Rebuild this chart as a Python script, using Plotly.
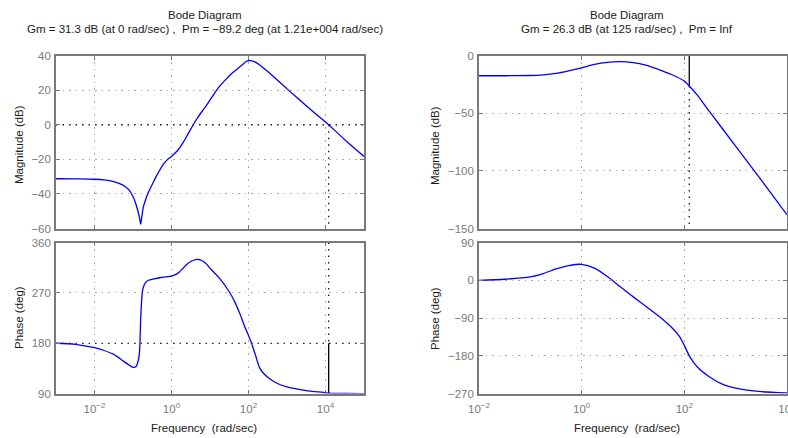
import numpy as np
import plotly.graph_objects as go

W, H = 788, 438

# ---- System 1 (left column) ----
# frequency points as decade exponents (log10 of rad/sec)
l_mag_exp = [-3, -2.5, -2, -1.75, -1.5, -1.3, -1.2, -1.1, -1.0, -0.93, -0.87, -0.83, -0.8,
             -0.77, -0.73, -0.66, -0.6, -0.5, -0.4, -0.3, -0.2, -0.1, 0, 0.1, 0.2, 0.3,
             0.4, 0.5, 0.66, 0.8, 0.9, 1.05, 1.2, 1.4, 1.6, 1.8, 1.95, 2.05, 2.2, 2.5,
             3.0, 3.5, 4.0, 4.083, 4.5, 5.0]
l_mag_db = [-31.2, -31.3, -31.5, -31.9, -32.9, -34.5, -35.8, -37.8, -41.5, -45.5, -50, -54, -57.5,
            -53, -47.5, -42.5, -39, -34.5, -30, -26, -22.5, -20, -18.3, -16.2, -13.7, -10.3,
            -6.5, -2.5, 3.5, 8, 11, 16, 21, 26, 30.4, 34, 36.8, 37.2, 36, 30.8,
            20.8, 11.0, 1.6, 0.0, -8.6, -18.3]

l_ph_exp = [-3, -2.5, -2, -1.75, -1.5, -1.25, -1.1, -1.0, -0.92, -0.86, -0.83, -0.8, -0.77,
            -0.74, -0.68, -0.6, -0.45, -0.3, -0.15, 0, 0.1, 0.2, 0.3, 0.4, 0.5, 0.63, 0.75,
            0.88, 1.0, 1.25, 1.5, 1.65, 1.78, 1.9, 2.0, 2.08, 2.18, 2.29, 2.42, 2.55,
            2.75, 3.0, 3.5, 4.0, 4.083, 4.5, 5.0]
l_ph_deg = [180, 178, 172, 167, 160, 148, 141, 137, 138.5, 150, 165, 224, 262,
            278, 288, 292.5, 295, 297, 298.5, 300, 302.5, 307, 314, 321, 326, 329.5, 329,
            323.5, 314, 296, 272, 253, 232, 210, 194, 180, 159, 136, 124, 116.5,
            108, 102, 95.5, 91.8, 90.8, 90.3, 90.1]

l_gm_db, l_gm_w = 31.3, 0.0
l_pm_deg, l_pm_w = -89.2, 1.21e4

# ---- System 2 (right column) ----
r_mag_exp = [-2, -1.5, -1, -0.75, -0.5, -0.25, 0, 0.25, 0.5, 0.75, 1.0, 1.25, 1.5, 1.75,
             2.0, 2.097, 2.25, 2.5, 3.0, 3.5, 4.0]
r_mag_db = [-17.4, -17.4, -17.2, -16.6, -15.3, -13.1, -10.5, -7.6, -5.8, -5.2, -6, -8.2,
            -12, -16.3, -22, -26.3, -34, -49, -78.5, -108, -138]

r_ph_exp = [-2, -1.5, -1, -0.75, -0.5, -0.25, 0, 0.25, 0.5, 0.75, 1.0, 1.25, 1.5, 1.75,
            1.9, 2.0, 2.097, 2.25, 2.5, 2.75, 3.0, 3.5, 4.0]
r_ph_deg = [0, 2.5, 8, 16, 27, 35, 38, 29, 9, -15, -39, -62, -85, -112,
            -133, -155, -180, -206, -231, -248, -257, -265.5, -268.5]

r_gm_db, r_gm_w = 26.3, 125.0

BLUE = "#0000ff"
FONT = "Liberation Sans, Arial, Helvetica, sans-serif"
GRAY = "#7a7a7a"
DOTS = "1.5px,5px"
FS = 11.5


def px_x(p):
    return p / W


def px_y(p):
    return 1 - p / H


fig = go.Figure()


def curve(xexp, yv, xa, ya):
    fig.add_trace(go.Scatter(
        x=10 ** np.array(xexp), y=yv, mode="lines",
        line=dict(color=BLUE, width=1.3, shape="spline", smoothing=0.7),
        xaxis=xa, yaxis=ya, showlegend=False, hoverinfo="skip"))


def seg(x, y, xa, ya, dash="solid", color="black", width=1.1):
    fig.add_trace(go.Scatter(
        x=x, y=y, mode="lines", line=dict(color=color, width=width, dash=dash),
        xaxis=xa, yaxis=ya, showlegend=False, hoverinfo="skip"))


# left column margin markers
seg([1e-3, 1e5], [0, 0], "x", "y", dash=DOTS, width=1.2)
seg([l_pm_w, l_pm_w], [0, -60], "x", "y", dash=DOTS, width=1.2)
seg([1e-3, 1e5], [180, 180], "x2", "y2", dash=DOTS, width=1.2)
seg([l_pm_w, l_pm_w], [360, 180], "x2", "y2", dash=DOTS, width=1.2)
seg([l_pm_w, l_pm_w], [180, 180 + l_pm_deg], "x2", "y2", width=1.3)

# right column margin markers
seg([r_gm_w, r_gm_w], [0, -r_gm_db], "x3", "y3", width=1.3)
seg([r_gm_w, r_gm_w], [-r_gm_db, -150], "x3", "y3", dash=DOTS, width=1.2)

curve(l_mag_exp, l_mag_db, "x", "y")
curve(l_ph_exp, l_ph_deg, "x2", "y2")
curve(r_mag_exp, r_mag_db, "x3", "y3")
curve(r_ph_exp, r_ph_deg, "x4", "y4")

xtick_vals = [1e-2, 1, 1e2, 1e4]
xtick_text = ["10<sup>−2</sup>", "10<sup>0</sup>", "10<sup>2</sup>", "10<sup>4</sup>"]


def ax_common():
    return dict(showline=True, mirror="ticks", linecolor=GRAY, linewidth=1.6,
                ticks="inside", ticklen=4, tickcolor=GRAY, tickwidth=1,
                showgrid=True, gridcolor="#a8a8a8", griddash=DOTS, gridwidth=1,
                zeroline=False, automargin=False, ticklabeloverflow="allow",
                tickfont=dict(family=FONT, size=FS, color=GRAY))


def xaxis(dom, rng, anchor, labels):
    d = ax_common()
    d.update(type="log", domain=dom, range=rng, anchor=anchor,
             tickvals=xtick_vals, ticktext=xtick_text, showticklabels=labels,
             ticklabelstandoff=4)
    return d


def yaxis(dom, rng, anchor, vals):
    d = ax_common()
    d.update(domain=dom, range=rng, anchor=anchor, tickvals=vals,
             ticktext=[("−" + str(-v)) if v < 0 else str(v) for v in vals],
             ticklabelstandoff=1)
    return d


LX = [px_x(56), px_x(364)]
RX = [px_x(479), px_x(787)]
MAGY = [px_y(228.5), px_y(55.7)]
PHY = [px_y(393.6), px_y(242.5)]

fig.update_layout(
    template="none",
    width=W, height=H, margin=dict(l=0, r=0, t=0, b=0, pad=0),
    paper_bgcolor="white", plot_bgcolor="white",
    font=dict(family=FONT, size=FS, color="black"),
    xaxis=xaxis(LX, [-3, 5], "y", False),
    yaxis=yaxis(MAGY, [-60, 40], "x", [-60, -40, -20, 0, 20, 40]),
    xaxis2=xaxis(LX, [-3, 5], "y2", True),
    yaxis2=yaxis(PHY, [90, 360], "x2", [90, 180, 270, 360]),
    xaxis3=xaxis(RX, [-2, 4.001], "y3", False),
    yaxis3=yaxis(MAGY, [-150, 0], "x3", [-150, -100, -50, 0]),
    xaxis4=xaxis(RX, [-2, 4.001], "y4", True),
    yaxis4=yaxis(PHY, [-270, 90], "x4", [-270, -180, -90, 0, 90]),
)

title_l2 = "Gm = %.1f dB (at %g rad/sec) ,  Pm = −%.1f deg (at 1.21e+004 rad/sec)" % (
    l_gm_db, l_gm_w, -l_pm_deg)
title_r2 = "Gm = %.1f dB (at %g rad/sec) ,  Pm = Inf" % (r_gm_db, r_gm_w)

texts = [
    ("Bode Diagram", 205, 15, 0),
    (title_l2, 205, 29, 0),
    ("Bode Diagram", 627, 15, 0),
    (title_r2, 627, 29, 0),
    ("Frequency  (rad/sec)", 204, 428, 0),
    ("Frequency  (rad/sec)", 627, 428, 0),
    ("Magnitude (dB)", 19, 145, -90),
    ("Phase (deg)", 19, 318, -90),
    ("Magnitude (dB)", 435, 145, -90),
    ("Phase (deg)", 435, 318, -90),
]
for t, x, y, ang in texts:
    fig.add_annotation(text=t, x=px_x(x), y=px_y(y), xref="paper", yref="paper",
                       xanchor="center", yanchor="middle", showarrow=False,
                       textangle=ang, borderpad=0,
                       font=dict(family=FONT, size=FS, color="#1a1a1a"))

fig.write_html("out.html")
